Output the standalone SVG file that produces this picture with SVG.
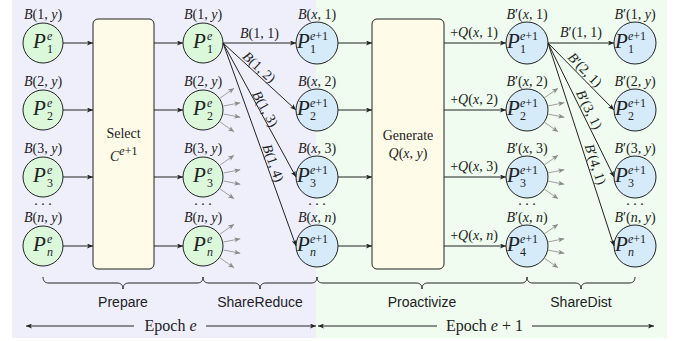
<svg xmlns="http://www.w3.org/2000/svg" width="678" height="341" viewBox="0 0 678 341">
<defs>
<marker id="ah" viewBox="0 0 6 5" refX="6" refY="2.5" markerWidth="6" markerHeight="5" markerUnits="userSpaceOnUse" orient="auto"><path d="M0,0 L6,2.5 L0,5 L1.5,2.5 Z" fill="#222"/></marker>
<marker id="ag" viewBox="0 0 6 5" refX="6" refY="2.5" markerWidth="6" markerHeight="5" markerUnits="userSpaceOnUse" orient="auto"><path d="M0,0 L6,2.5 L0,5 L1.5,2.5 Z" fill="#8a8a8a"/></marker>
</defs>
<style>
.m{font-family:"Liberation Serif","Times New Roman",serif;font-size:14px;fill:#222}
.c{text-anchor:middle}
.i{font-style:italic}
.P{font-size:21px;font-style:italic}
.s{font-size:12px}
.sf{font-family:"Liberation Sans",Arial,sans-serif;font-size:14px;fill:#222;text-anchor:middle}
.ep{font-size:16px}
.ng{fill:#dbf8db;stroke:#222;stroke-width:1}
.nb{fill:#d6ebfa;stroke:#222;stroke-width:1}
.box{fill:#fefbe9;stroke:#222;stroke-width:1}
.ln{stroke:#222;stroke-width:1;fill:none}
.ar{stroke:#222;stroke-width:1;fill:none;marker-end:url(#ah)}
.gr{stroke:#8a8a8a;stroke-width:0.8;fill:none;marker-end:url(#ag)}
</style>
<rect x="12" y="0" width="304" height="338" fill="#efeffc"/>
<rect x="316" y="0" width="351" height="338" fill="#effcef"/>

<!-- column 1 -->
<g id="c1r1"><text class="m c" x="43" y="19"><tspan class="i">B</tspan>(1, <tspan class="i">y</tspan>)</text><circle class="ng" cx="43" cy="43" r="20"/><text class="m P" x="33" y="48">P</text><text class="m s i" x="47" y="40">e</text><text class="m s" x="47" y="53">1</text></g>
<g id="c1r2"><text class="m c" x="43" y="86"><tspan class="i">B</tspan>(2, <tspan class="i">y</tspan>)</text><circle class="ng" cx="43" cy="110" r="20"/><text class="m P" x="33" y="115">P</text><text class="m s i" x="47" y="107">e</text><text class="m s" x="47" y="120">2</text></g>
<g id="c1r3"><text class="m c" x="43" y="153"><tspan class="i">B</tspan>(3, <tspan class="i">y</tspan>)</text><circle class="ng" cx="43" cy="177" r="20"/><text class="m P" x="33" y="182">P</text><text class="m s i" x="47" y="174">e</text><text class="m s" x="47" y="187">3</text></g>
<g id="c1rn"><text class="m c" x="43" y="205">. . .</text><text class="m c" x="43" y="222"><tspan class="i">B</tspan>(<tspan class="i">n</tspan>, <tspan class="i">y</tspan>)</text><circle class="ng" cx="43" cy="246" r="20"/><text class="m P" x="33" y="251">P</text><text class="m s i" x="47" y="243">e</text><text class="m s i" x="47" y="256">n</text></g>

<!-- select box -->
<g id="select"><rect class="box" x="93" y="19" width="61" height="250" rx="5"/><text class="m c" x="123.5" y="138" font-size="16">Select</text><text class="m" x="110" y="161" font-size="16"><tspan class="i">C</tspan><tspan font-size="12" dy="-6"><tspan class="i">e</tspan>+1</tspan></text></g>

<!-- column 2 -->
<g id="c2r1"><text class="m c" x="203" y="19"><tspan class="i">B</tspan>(1, <tspan class="i">y</tspan>)</text><circle class="ng" cx="203" cy="43" r="20"/><text class="m P" x="193" y="48">P</text><text class="m s i" x="207" y="40">e</text><text class="m s" x="207" y="53">1</text></g>
<g id="c2r2"><text class="m c" x="203" y="86"><tspan class="i">B</tspan>(2, <tspan class="i">y</tspan>)</text><circle class="ng" cx="203" cy="110" r="20"/><text class="m P" x="193" y="115">P</text><text class="m s i" x="207" y="107">e</text><text class="m s" x="207" y="120">2</text></g>
<g id="c2r3"><text class="m c" x="203" y="153"><tspan class="i">B</tspan>(3, <tspan class="i">y</tspan>)</text><circle class="ng" cx="203" cy="177" r="20"/><text class="m P" x="193" y="182">P</text><text class="m s i" x="207" y="174">e</text><text class="m s" x="207" y="187">3</text></g>
<g id="c2rn"><text class="m c" x="203" y="205">. . .</text><text class="m c" x="203" y="222"><tspan class="i">B</tspan>(<tspan class="i">n</tspan>, <tspan class="i">y</tspan>)</text><circle class="ng" cx="203" cy="246" r="20"/><text class="m P" x="193" y="251">P</text><text class="m s i" x="207" y="243">e</text><text class="m s i" x="207" y="256">n</text></g>

<!-- column 3 -->
<g id="c3r1"><text class="m c" x="317" y="19"><tspan class="i">B</tspan>(<tspan class="i">x</tspan>, 1)</text><circle class="nb" cx="317" cy="43" r="21"/><text class="m P" x="297" y="48">P</text><text class="m s" x="310" y="40"><tspan class="i">e</tspan>+1</text><text class="m s" x="310" y="53">1</text></g>
<g id="c3r2"><text class="m c" x="317" y="86"><tspan class="i">B</tspan>(<tspan class="i">x</tspan>, 2)</text><circle class="nb" cx="317" cy="110" r="21"/><text class="m P" x="297" y="115">P</text><text class="m s" x="310" y="107"><tspan class="i">e</tspan>+1</text><text class="m s" x="310" y="120">2</text></g>
<g id="c3r3"><text class="m c" x="317" y="153"><tspan class="i">B</tspan>(<tspan class="i">x</tspan>, 3)</text><circle class="nb" cx="317" cy="177" r="21"/><text class="m P" x="297" y="182">P</text><text class="m s" x="310" y="174"><tspan class="i">e</tspan>+1</text><text class="m s" x="310" y="187">3</text></g>
<g id="c3rn"><text class="m c" x="317" y="205">. . .</text><text class="m c" x="317" y="222"><tspan class="i">B</tspan>(<tspan class="i">x</tspan>, <tspan class="i">n</tspan>)</text><circle class="nb" cx="317" cy="246" r="21"/><text class="m P" x="297" y="251">P</text><text class="m s" x="310" y="243"><tspan class="i">e</tspan>+1</text><text class="m s i" x="310" y="256">n</text></g>

<!-- generate box -->
<g id="generate"><rect class="box" x="372" y="19" width="72" height="250" rx="5"/><text class="m c" x="408" y="140" font-size="16">Generate</text><text class="m c" x="408" y="158" font-size="16"><tspan class="i">Q</tspan>(<tspan class="i">x</tspan>, <tspan class="i">y</tspan>)</text></g>

<!-- column 4 -->
<g id="c4r1"><text class="m c" x="527" y="19"><tspan class="i">B</tspan>′(<tspan class="i">x</tspan>, 1)</text><circle class="nb" cx="527" cy="43" r="21"/><text class="m P" x="507" y="48">P</text><text class="m s" x="520" y="40"><tspan class="i">e</tspan>+1</text><text class="m s" x="520" y="53">1</text></g>
<g id="c4r2"><text class="m c" x="527" y="86"><tspan class="i">B</tspan>′(<tspan class="i">x</tspan>, 2)</text><circle class="nb" cx="527" cy="110" r="21"/><text class="m P" x="507" y="115">P</text><text class="m s" x="520" y="107"><tspan class="i">e</tspan>+1</text><text class="m s" x="520" y="120">2</text></g>
<g id="c4r3"><text class="m c" x="527" y="153"><tspan class="i">B</tspan>′(<tspan class="i">x</tspan>, 3)</text><circle class="nb" cx="527" cy="177" r="21"/><text class="m P" x="507" y="182">P</text><text class="m s" x="520" y="174"><tspan class="i">e</tspan>+1</text><text class="m s" x="520" y="187">3</text></g>
<g id="c4rn"><text class="m c" x="527" y="205">. . .</text><text class="m c" x="527" y="222"><tspan class="i">B</tspan>′(<tspan class="i">x</tspan>, <tspan class="i">n</tspan>)</text><circle class="nb" cx="527" cy="246" r="21"/><text class="m P" x="507" y="251">P</text><text class="m s" x="520" y="243"><tspan class="i">e</tspan>+1</text><text class="m s" x="520" y="256">4</text></g>

<!-- column 5 -->
<g id="c5r1"><text class="m c" x="635" y="19"><tspan class="i">B</tspan>′(1, <tspan class="i">y</tspan>)</text><circle class="nb" cx="635" cy="43" r="21"/><text class="m P" x="615" y="48">P</text><text class="m s" x="628" y="40"><tspan class="i">e</tspan>+1</text><text class="m s" x="628" y="53">1</text></g>
<g id="c5r2"><text class="m c" x="635" y="86"><tspan class="i">B</tspan>′(2, <tspan class="i">y</tspan>)</text><circle class="nb" cx="635" cy="110" r="21"/><text class="m P" x="615" y="115">P</text><text class="m s" x="628" y="107"><tspan class="i">e</tspan>+1</text><text class="m s" x="628" y="120">2</text></g>
<g id="c5r3"><text class="m c" x="635" y="153"><tspan class="i">B</tspan>′(3, <tspan class="i">y</tspan>)</text><circle class="nb" cx="635" cy="177" r="21"/><text class="m P" x="615" y="182">P</text><text class="m s" x="628" y="174"><tspan class="i">e</tspan>+1</text><text class="m s" x="628" y="187">3</text></g>
<g id="c5rn"><text class="m c" x="635" y="205">. . .</text><text class="m c" x="635" y="222"><tspan class="i">B</tspan>′(<tspan class="i">n</tspan>, <tspan class="i">y</tspan>)</text><circle class="nb" cx="635" cy="246" r="21"/><text class="m P" x="615" y="251">P</text><text class="m s" x="628" y="243"><tspan class="i">e</tspan>+1</text><text class="m s i" x="628" y="256">n</text></g>

<!-- connectors -->
<g id="connectors">
<line class="ar" x1="63" y1="43" x2="93" y2="43"/>
<line class="ar" x1="63" y1="110" x2="93" y2="110"/>
<line class="ar" x1="63" y1="177" x2="93" y2="177"/>
<line class="ar" x1="63" y1="246" x2="93" y2="246"/>
<line class="ar" x1="154" y1="43" x2="183" y2="43"/>
<line class="ar" x1="154" y1="110" x2="183" y2="110"/>
<line class="ar" x1="154" y1="177" x2="183" y2="177"/>
<line class="ar" x1="154" y1="246" x2="183" y2="246"/>
<line class="ar" x1="223" y1="43" x2="296" y2="43"/>
<line class="ar" x1="223" y1="43" x2="296" y2="110"/>
<line class="ar" x1="223" y1="43" x2="296" y2="177"/>
<line class="ar" x1="223" y1="43" x2="296" y2="246"/>
<line class="ar" x1="338" y1="43" x2="372" y2="43"/>
<line class="ar" x1="338" y1="110" x2="372" y2="110"/>
<line class="ar" x1="338" y1="177" x2="372" y2="177"/>
<line class="ar" x1="338" y1="246" x2="372" y2="246"/>
<line class="ar" x1="444" y1="43" x2="506" y2="43"/>
<line class="ar" x1="444" y1="110" x2="506" y2="110"/>
<line class="ar" x1="444" y1="177" x2="506" y2="177"/>
<line class="ar" x1="444" y1="246" x2="506" y2="246"/>
<line class="ar" x1="548" y1="43" x2="614" y2="43"/>
<line class="ar" x1="548" y1="43" x2="614" y2="110"/>
<line class="ar" x1="548" y1="43" x2="614" y2="177"/>
<line class="ar" x1="548" y1="43" x2="614" y2="246"/>
<text class="m c" x="259.5" y="38"><tspan class="i">B</tspan>(1, 1)</text>
<text class="m c" transform="translate(254.7,72.1) rotate(42.5)" y="-2"><tspan class="i">B</tspan>(1, 2)</text>
<text class="m c" transform="translate(260.3,111.5) rotate(61.4)" y="-1"><tspan class="i">B</tspan>(1, 3)</text>
<text class="m c" transform="translate(266.9,165.3) rotate(70.2)" y="-2"><tspan class="i">B</tspan>(1, 4)</text>
<text class="m c" x="474" y="37">+<tspan class="i">Q</tspan>(<tspan class="i">x</tspan>, 1)</text>
<text class="m c" x="474" y="104">+<tspan class="i">Q</tspan>(<tspan class="i">x</tspan>, 2)</text>
<text class="m c" x="474" y="171">+<tspan class="i">Q</tspan>(<tspan class="i">x</tspan>, 3)</text>
<text class="m c" x="474" y="240">+<tspan class="i">Q</tspan>(<tspan class="i">x</tspan>, <tspan class="i">n</tspan>)</text>
<text class="m c" x="581" y="37"><tspan class="i">B</tspan>′(1, 1)</text>
<text class="m c" transform="translate(579.6,75.1) rotate(45.4)" y="-3"><tspan class="i">B</tspan>′(2, 1)</text>
<text class="m c" transform="translate(582.4,113) rotate(63.8)" y="-3"><tspan class="i">B</tspan>′(3, 1)</text>
<text class="m c" transform="translate(588.2,166.6) rotate(72)" y="-3"><tspan class="i">B</tspan>′(4, 1)</text>
<!-- gray fans -->
<line class="gr" x1="220.2" y1="98" x2="234.1" y2="88.2"/>
<line class="gr" x1="223.6" y1="106" x2="240.3" y2="102.7"/>
<line class="gr" x1="223.6" y1="114" x2="240.3" y2="117.3"/>
<line class="gr" x1="220.2" y1="122" x2="234.1" y2="131.8"/>
<line class="gr" x1="220.2" y1="165" x2="234.1" y2="155.2"/>
<line class="gr" x1="223.6" y1="173" x2="240.3" y2="169.7"/>
<line class="gr" x1="223.6" y1="181" x2="240.3" y2="184.3"/>
<line class="gr" x1="220.2" y1="189" x2="234.1" y2="198.8"/>
<line class="gr" x1="220.2" y1="234" x2="234.1" y2="224.2"/>
<line class="gr" x1="223.6" y1="242" x2="240.3" y2="238.7"/>
<line class="gr" x1="223.6" y1="250" x2="240.3" y2="253.3"/>
<line class="gr" x1="220.2" y1="258" x2="234.1" y2="267.8"/>
<line class="gr" x1="544.2" y1="98" x2="558.1" y2="88.2"/>
<line class="gr" x1="547.6" y1="106" x2="564.3" y2="102.7"/>
<line class="gr" x1="547.6" y1="114" x2="564.3" y2="117.3"/>
<line class="gr" x1="544.2" y1="122" x2="558.1" y2="131.8"/>
<line class="gr" x1="544.2" y1="165" x2="558.1" y2="155.2"/>
<line class="gr" x1="547.6" y1="173" x2="564.3" y2="169.7"/>
<line class="gr" x1="547.6" y1="181" x2="564.3" y2="184.3"/>
<line class="gr" x1="544.2" y1="189" x2="558.1" y2="198.8"/>
<line class="gr" x1="544.2" y1="234" x2="558.1" y2="224.2"/>
<line class="gr" x1="547.6" y1="242" x2="564.3" y2="238.7"/>
<line class="gr" x1="547.6" y1="250" x2="564.3" y2="253.3"/>
<line class="gr" x1="544.2" y1="258" x2="558.1" y2="267.8"/>
</g>

<!-- braces -->
<g id="braces">
<path class="ln" d="M43,277 C43,281 45,283 49,283 L117,283 C121,283 123,285 123,289 C123,285 125,283 129,283 L197,283 C201,283 203,281 203,277"/>
<path class="ln" d="M203,277 C203,281 205,283 209,283 L254,283 C258,283 260,285 260,289 C260,285 262,283 266,283 L311,283 C315,283 317,281 317,277"/>
<path class="ln" d="M317,277 C317,281 319,283 323,283 L416,283 C420,283 422,285 422,289 C422,285 424,283 428,283 L521,283 C525,283 527,281 527,277"/>
<path class="ln" d="M527,277 C527,281 529,283 533,283 L575,283 C579,283 581,285 581,289 C581,285 583,283 587,283 L629,283 C633,283 635,281 635,277"/>
<text class="sf" x="123" y="307">Prepare</text>
<text class="sf" x="260" y="307">ShareReduce</text>
<text class="sf" x="422" y="307">Proactivize</text>
<text class="sf" x="581" y="307">ShareDist</text>
</g>

<!-- epochs -->
<g id="epochs">
<line class="ar" x1="134" y1="326" x2="26" y2="326"/>
<line class="ar" x1="206" y1="326" x2="316" y2="326"/>
<text class="m c ep" x="170.5" y="331">Epoch <tspan class="i">e</tspan></text>
<line class="ar" x1="437" y1="326" x2="318" y2="326"/>
<line class="ar" x1="532" y1="326" x2="654" y2="326"/>
<text class="m c ep" x="484.5" y="331">Epoch <tspan class="i">e</tspan> + 1</text>
</g>
</svg>
